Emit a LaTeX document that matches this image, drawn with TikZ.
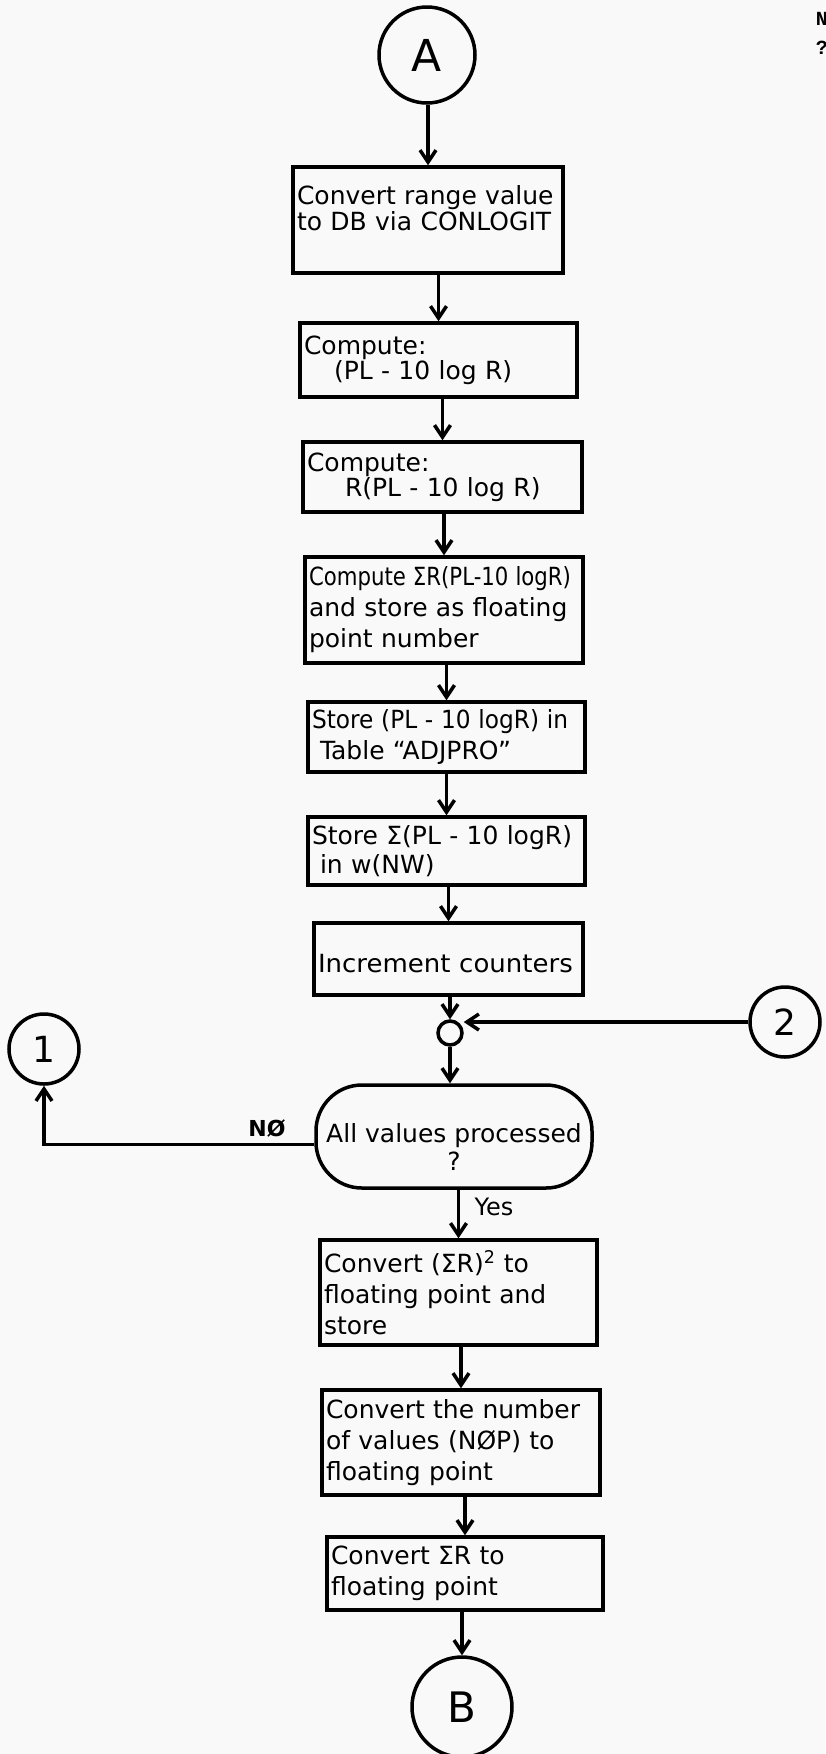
\documentclass[tikz,border=0pt]{standalone}
\usepackage{fontspec}
\setmainfont{DejaVu Sans}
\newfontfamily\twfont{Liberation Mono}
\usetikzlibrary{arrows.meta}
\begin{document}
\begin{tikzpicture}[x=1pt,y=-1pt,
  line width=3.5pt,
  box/.style={draw, rectangle, inner xsep=4pt, inner ysep=0pt,
    font=\fontsize{25}{31}\selectfont, align=left},
  term/.style={draw, rectangle, rounded corners=46pt, inner sep=0pt,
    font=\fontsize{25}{31}\selectfont, align=center},
  conn/.style={draw, circle, inner sep=0pt},
  junc/.style={draw, circle, inner sep=0pt, minimum size=24pt},
  arr/.style={-{Straight Barb[length=12pt,width=16pt]}},
  lbl/.style={font=\fontsize{24}{24}\selectfont, inner sep=1pt}
 ]
\fill[gray!5] (0,0) rectangle (825,1754);
\useasboundingbox (0,0) rectangle (825,1754);

% corner marks
\node[font=\twfont\bfseries\fontsize{20}{20}\selectfont, anchor=west, inner sep=0pt] (cn) at (814,19) {N};
\node[font=\twfont\bfseries\fontsize{20}{20}\selectfont, anchor=west, inner sep=0pt] (cq) at (814,48) {?};

% connectors (circles)
\node[conn, minimum size=96pt, font=\fontsize{44}{44}\selectfont] (A) at (427,55) {A};
\node[conn, minimum size=100pt, font=\fontsize{42}{42}\selectfont] (B) at (462,1707) {B};
\node[conn, minimum size=70pt, font=\fontsize{36}{36}\selectfont] (c1) at (44,1049) {1};
\node[conn, minimum size=70pt, font=\fontsize{36}{36}\selectfont] (c2) at (785,1022) {2};
\node[junc] (j) at (450,1033) {};

% process boxes
\node[box, text width=262pt, minimum height=106pt] (b1) at (428,220)
  {Convert range value\\[-5pt]to DB via CONLOGIT\rule[-24pt]{0pt}{24pt}};
\node[box, text width=269pt, minimum height=74pt] (b2) at (438.5,360)
  {Compute:\\[-6pt]\hspace*{30pt}(PL - 10 log R)};
\node[box, text width=271pt, minimum height=70pt] (b3) at (442.5,477)
  {Compute:\\[-6pt]\hspace*{38pt}R(PL - 10 log R)};
\node[box, text width=270pt, minimum height=106pt] (b4) at (444,610)
  {\scalebox{0.85}[1]{Compute ΣR(PL-10 logR)}\\and store as floating\\point number};
\node[box, text width=269pt, minimum height=70pt] (b5) at (446.5,737)
  {\scalebox{0.93}[1]{Store (PL - 10 logR) in}\\\hspace*{8pt}Table “ADJPRO”};
\node[box, text width=269pt, minimum height=68pt] (b6) at (446.5,851)
  {Store Σ(PL - 10 logR)\\[-2pt]\hspace*{8pt}in w(NW)};
\node[box, text width=261pt, minimum height=72pt] (b7) at (448.5,959)
  {\rule{0pt}{28pt}\scalebox{1.04}[1]{Increment counters}};
\node[term, minimum width=276pt, minimum height=103pt] (t) at (454,1136.5)
  {\rule{0pt}{40pt}All values processed\\[-3pt]?};
\node[box, text width=269pt, minimum height=105pt] (b8) at (458.5,1292.5)
  {Convert (ΣR)\textsuperscript{2} to\\floating point and\\store};
\node[box, text width=270pt, minimum height=105pt] (b9) at (461,1442.5)
  {Convert the number\\of values (NØP) to\\floating point};
\node[box, text width=268pt, minimum height=73pt] (b10) at (465,1573.5)
  {Convert ΣR to\\floating point};

% labels
\node[lbl, font=\bfseries\fontsize{22}{22}\selectfont] (no) at (267,1128) {NØ};
\node[lbl] (yes) at (494,1207) {Yes};

% flow
\draw[arr] (A.south -| b1.north) -- (b1.north);
\draw[arr] (b1.south -| b2.north) -- (b2.north);
\draw[arr] (b2.south -| b3.north) -- (b3.north);
\draw[arr] (b3.south -| b4.north) -- (b4.north);
\draw[arr] (b4.south -| b5.north) -- (b5.north);
\draw[arr] (b5.south -| b6.north) -- (b6.north);
\draw[arr] (b6.south -| b7.north) -- (b7.north);
\draw[arr] (b7.south -| j.north) -- (j.north);
\draw[arr] (c2.west) -- (c2.west -| j.east);
\draw[arr] (j.south) -- (j.south |- t.north);
\draw[arr] ([yshift=-8pt]t.west) -| (c1.south);
\draw[arr] (t.south -| b8.north) -- (b8.north);
\draw[arr] (b8.south -| b9.north) -- (b9.north);
\draw[arr] (b9.south -| b10.north) -- (b10.north);
\draw[arr] (b10.south -| B.north) -- (B.north);
\end{tikzpicture}
\end{document}
